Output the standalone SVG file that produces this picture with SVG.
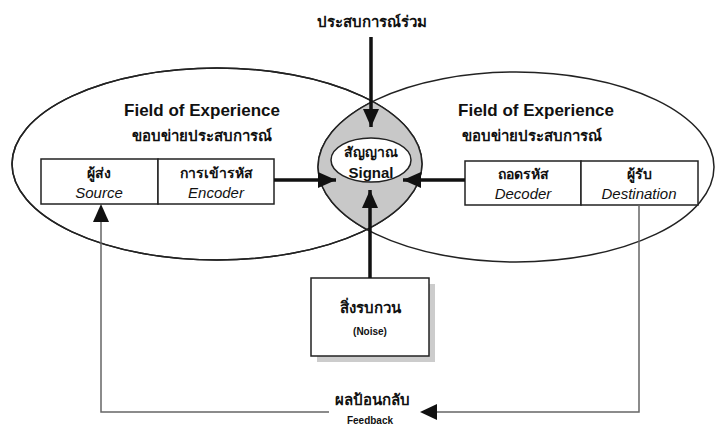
<svg xmlns="http://www.w3.org/2000/svg" width="716" height="427" viewBox="0 0 716 427">
<style>
text{font-family:"Liberation Sans","Noto Sans",Arial,sans-serif;fill:#111;text-anchor:middle}
.h{font-size:17px;font-weight:bold}
.th{font-size:15px;font-weight:bold}
.tb{font-size:14px;font-weight:bold}
.en{font-size:15px;font-style:italic}
.sm{font-size:10px;font-weight:bold}
.box{fill:#fff;stroke:#222;stroke-width:1.5}
.ell{fill:none;stroke:#222;stroke-width:1.5}
.thick{stroke:#111;stroke-width:3.5;fill:none}
.thin{stroke:#666;stroke-width:1.5;fill:none}
</style>
<defs>
<marker id="ah" viewBox="0 0 18 16" refX="18" refY="8" markerWidth="18" markerHeight="16" markerUnits="userSpaceOnUse" orient="auto"><path d="M0,0 L18,8 L0,16 Z" fill="#111"/></marker>
<clipPath id="leftClip"><ellipse cx="217" cy="164" rx="205" ry="96"/></clipPath>
</defs>
<g id="left-field">
<ellipse class="ell" cx="217" cy="164" rx="205" ry="96"/>
<text class="h" x="202" y="116">Field of Experience</text>
<text class="th" x="202" y="141">ขอบข่ายประสบการณ์</text>
</g>
<g id="right-field">
<ellipse class="ell" cx="516" cy="167" rx="198" ry="95"/>
<text class="h" x="536" y="116">Field of Experience</text>
<text class="th" x="532" y="141">ขอบข่ายประสบการณ์</text>
</g>
<g id="signal">
<ellipse cx="516" cy="167" rx="198" ry="95" fill="#c8c8c8" stroke="#222" stroke-width="1.5" clip-path="url(#leftClip)"/>
<ellipse cx="217" cy="164" rx="205" ry="96" fill="none" stroke="#222" stroke-width="1.5"/>
<ellipse cx="371" cy="160" rx="40" ry="22" fill="#fff" stroke="#222" stroke-width="1.5"/>
<text class="tb" x="371" y="157">สัญญาณ</text>
<text x="371" y="178" style="font-size:15px;font-weight:bold">Signal</text>
</g>
<g id="source">
<rect class="box" x="41" y="159" width="117" height="45"/>
<text class="tb" x="99" y="178">ผู้ส่ง</text>
<text class="en" x="99" y="198">Source</text>
</g>
<g id="encoder">
<rect class="box" x="158" y="159" width="116" height="45"/>
<text class="tb" x="216" y="178">การเข้ารหัส</text>
<text class="en" x="216" y="198">Encoder</text>
</g>
<g id="decoder">
<rect class="box" x="465" y="161" width="116" height="44"/>
<text class="tb" x="523" y="179">ถอดรหัส</text>
<text class="en" x="523" y="199">Decoder</text>
</g>
<g id="destination">
<rect class="box" x="581" y="161" width="117" height="44"/>
<text class="tb" x="639" y="179">ผู้รับ</text>
<text class="en" x="639" y="199">Destination</text>
</g>
<g id="shared-experience">
<text class="th" x="372" y="27">ประสบการณ์ร่วม</text>
</g>
<g id="noise">
<rect x="317" y="284" width="118" height="78" fill="#ccc"/>
<rect class="box" x="311" y="278" width="118" height="78"/>
<text class="th" x="370" y="313">สิ่งรบกวน</text>
<text class="sm" x="370" y="335">(Noise)</text>
</g>
<g id="feedback">
<text class="th" x="372" y="405">ผลป้อนกลับ</text>
<text class="sm" x="370" y="424">Feedback</text>
</g>
<g id="connectors">
<line class="thick" x1="371" y1="37" x2="371" y2="127" marker-end="url(#ah)"/>
<line class="thick" x1="274" y1="180" x2="336" y2="180" marker-end="url(#ah)"/>
<line class="thick" x1="465" y1="180" x2="403" y2="180" marker-end="url(#ah)"/>
<line class="thick" x1="370" y1="278" x2="370" y2="190" marker-end="url(#ah)"/>
<polyline class="thin" points="639,205 639,412 436,412"/>
<path d="M420,412 L437,404 L437,420 Z" fill="#111"/>
<polyline class="thin" points="329,412 101,412 101,220"/>
<path d="M101,204 L93,222 L109,222 Z" fill="#111"/>
</g>
</svg>
